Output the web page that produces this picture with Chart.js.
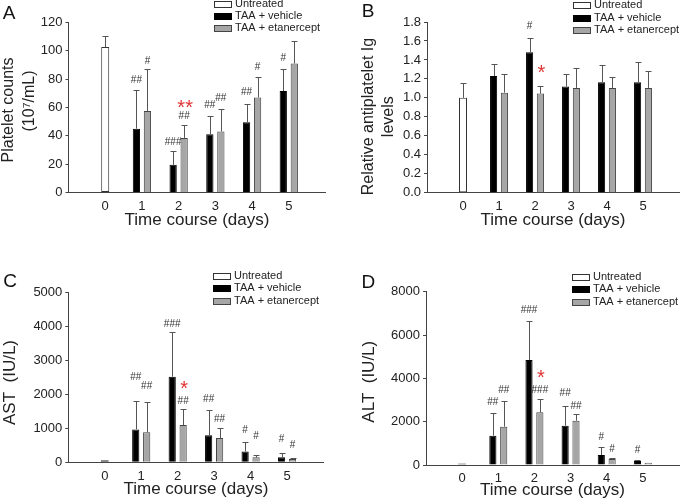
<!DOCTYPE html>
<html>
<head>
<meta charset="utf-8">
<script src="https://cdn.jsdelivr.net/npm/chart.js@4.4.1/dist/chart.umd.min.js"></script>
<style>
  body { margin: 0; background: #fff; }
  #fig { position: relative; width: 685px; height: 501px; overflow: hidden; }
  .panel { position: absolute; }
</style>
</head>
<body>
<div id="fig">
  <div class="panel" style="left:0;top:0;width:340px;height:250px"><canvas id="chartA"></canvas></div>
  <div class="panel" style="left:340px;top:0;width:345px;height:250px"><canvas id="chartB"></canvas></div>
  <div class="panel" style="left:0;top:250px;width:340px;height:251px"><canvas id="chartC"></canvas></div>
  <div class="panel" style="left:340px;top:250px;width:345px;height:251px"><canvas id="chartD"></canvas></div>
</div>
<script>
// Données
const days = ['0', '1', '2', '3', '4', '5'];
const groupNames = ['Untreated', 'TAA + vehicle', 'TAA + etanercept'];

// A - plaquettes (10^7/mL)
const plateletUntreated = [102.5, null, null, null, null, null];
const plateletUntreatedSd = [7.5, null, null, null, null, null];
const plateletVehicle = [null, 45, 19.5, 41, 49.5, 71.5];
const plateletVehicleSd = [null, 27.5, 9.5, 13, 13, 15.5];
const plateletEtanercept = [null, 57.5, 38.5, 43, 67, 91];
const plateletEtanerceptSd = [null, 29.5, 9, 16, 14.5, 16];
const plateletVehicleMarks = ['', '##', '###', '##', '##', '#'];
const plateletVehicleMarkAt = [null, 79, 35.3, 61.3, 70.9, 94.7];
const plateletEtanerceptMarks = ['', '#', '##', '##', '#', ''];
const plateletEtanerceptMarkAt = [null, 92.4, 54, 66.7, 88.4, null];
const plateletStars = ['', '', '**', '', '', ''];
const plateletStarAt = [null, null, 62.7, null, null, null];

// B - anticorps antiplaquettes (relatif)
const antibodyUntreated = [1.0, null, null, null, null, null];
const antibodyUntreatedSd = [0.16, null, null, null, null, null];
const antibodyVehicle = [null, 1.23, 1.48, 1.12, 1.165, 1.165];
const antibodyVehicleSd = [null, 0.125, 0.15, 0.13, 0.18, 0.21];
const antibodyEtanercept = [null, 1.055, 1.045, 1.105, 1.105, 1.105];
const antibodyEtanerceptSd = [null, 0.195, 0.085, 0.215, 0.11, 0.18];
const antibodyVehicleMarks = ['', '', '#', '', '', ''];
const antibodyVehicleMarkAt = [null, null, 1.751, null, null, null];
const antibodyEtanerceptMarks = ['', '', '', '', '', ''];
const antibodyEtanerceptMarkAt = [null, null, null, null, null, null];
const antibodyStars = ['', '', '*', '', '', ''];
const antibodyStarAt = [null, null, 1.305, null, null, null];

// C - AST (IU/L)
const astUntreated = [60, null, null, null, null, null];
const astUntreatedSd = [null, null, null, null, null, null];
const astVehicle = [null, 966, 2512, 792, 319, 145];
const astVehicleSd = [null, 831, 1304, 754, 270, 116];
const astEtanercept = [null, 879, 1092, 715, 145, 97];
const astEtanerceptSd = [null, 879, 473, 290, 58, 19];
const astVehicleMarks = ['', '##', '###', '##', '#', '#'];
const astVehicleMarkAt = [null, 2502, 4058, 1855, 937, 667];
const astEtanerceptMarks = ['', '##', '##', '##', '#', '#'];
const astEtanerceptMarkAt = [null, 2242, 1807, 1275, 773, 502];
const astStars = ['', '', '*', '', '', ''];
const astStarAt = [null, null, 2261, null, null, null];

// D - ALT (IU/L)
const altUntreated = [75, null, null, null, null, null];
const altUntreatedSd = [null, null, null, null, null, null];
const altVehicle = [null, 1354, 4845, 1814, 460, 185];
const altVehicleSd = [null, 1061, 1815, 896, 357, 45];
const altEtanercept = [null, 1769, 2430, 2045, 277, 106];
const altEtanerceptSd = [null, 1184, 615, 295, 32, null];
const altVehicleMarks = ['', '##', '###', '##', '#', '#'];
const altVehicleMarkAt = [null, 2876, 7152, 3307, 1261, 692];
const altEtanerceptMarks = ['', '##', '###', '##', '#', ''];
const altEtanerceptMarkAt = [null, 3460, 3460, 2722, 738, null];
const altStars = ['', '', '*', '', '', ''];
const altStarAt = [null, null, 4199, null, null, null];

// Styles
const FONT = '"Liberation Sans", Arial, sans-serif';
Chart.defaults.font.family = FONT;
Chart.defaults.color = '#222';
const groupFill = ['#ffffff', '#000000', '#a6a6a6'];
const groupEdge = ['#333333', '#000000', '#444444'];
const axisColor = '#444';

// l'axe x va d'une case vide à une autre case vide
const pad = arr => [null, ...arr, null];
const none = days.map(() => null);
const blank = days.map(() => '');

// tinyFill : une barre "Untreated" très basse paraît noire sur la figure
function buildDatasets(values, sds, marks, markAt, stars, starAt, tinyFill) {
  return groupNames.map((name, g) => ({
    label: name,
    data: pad(values[g]),
    sd: pad(sds[g]),
    marks: pad(marks[g]),
    markAt: pad(markAt[g]),
    stars: pad(g === 2 ? stars : blank),
    starAt: pad(g === 2 ? starAt : none),
    backgroundColor: (g === 0 && tinyFill) ? tinyFill : groupFill[g],
    borderColor: groupEdge[g],
    borderWidth: 1,
    borderSkipped: g === 0 ? false : 'start',
    skipNull: true,
    maxBarThickness: 8,
    categoryPercentage: 0.6,
    barPercentage: 0.66
  }));
}

// barres d'erreur (vers le haut seulement) + les # et *
const errorBarsPlugin = {
  id: 'errorBars',
  afterDatasetsDraw(chart) {
    const ctx = chart.ctx;
    const ys = chart.scales.y;
    ctx.save();
    chart.data.datasets.forEach((ds, i) => {
      chart.getDatasetMeta(i).data.forEach((bar, j) => {
        const v = ds.data[j];
        if (v == null) return;
        const x = Math.round(bar.x) + 0.5;
        const sd = ds.sd[j];
        if (sd) {
          const y0 = ys.getPixelForValue(v);
          const y1 = Math.round(ys.getPixelForValue(v + sd)) + 0.5;
          ctx.strokeStyle = '#555';
          ctx.lineWidth = 1;
          ctx.beginPath();
          ctx.moveTo(x, y0);
          ctx.lineTo(x, y1);
          ctx.moveTo(x - 3, y1);
          ctx.lineTo(x + 3, y1);
          ctx.stroke();
        }
        ctx.textAlign = 'center';
        ctx.textBaseline = 'middle';
        if (ds.marks[j]) {
          ctx.font = '10px ' + FONT;
          ctx.fillStyle = '#333';
          ctx.fillText(ds.marks[j], bar.x, ys.getPixelForValue(ds.markAt[j]));
        }
        if (ds.stars[j]) {
          ctx.font = '20px ' + FONT;
          ctx.fillStyle = '#e03535';
          ctx.fillText(ds.stars[j], bar.x + 1, ys.getPixelForValue(ds.starAt[j]) + 4.6);
        }
      });
    });
    ctx.restore();
  }
};

// lettre du panneau, titre de l'axe y et légende
function decorPlugin(p) {
  return {
    id: 'decor',
    afterDraw(chart) {
      const ctx = chart.ctx;
      ctx.save();
      ctx.textAlign = 'center';
      ctx.textBaseline = 'middle';
      ctx.fillStyle = '#111';
      ctx.font = '19px ' + FONT;
      ctx.fillText(p.letter, p.letterX, p.letterY);

      ctx.font = p.yTitleSize + 'px ' + FONT;
      ctx.fillStyle = '#222';
      p.yTitle.forEach((line, k) => {
        ctx.save();
        ctx.translate(p.yTitleX[k], p.yTitleY[k]);
        ctx.rotate(-Math.PI / 2);
        ctx.fillText(line, 0, 0);
        ctx.restore();
      });

      ctx.font = '11px ' + FONT;
      ctx.textAlign = 'left';
      chart.data.datasets.forEach((ds, i) => {
        const y = p.legendY + i * p.legendGap;
        const top = Math.round(y - 3) + 0.5;
        ctx.fillStyle = groupFill[i];
        ctx.fillRect(p.legendX + 0.5, top, 17, 6);
        ctx.strokeStyle = groupEdge[i];
        ctx.lineWidth = 1;
        ctx.strokeRect(p.legendX + 0.5, top, 17, 6);
        ctx.fillStyle = '#222';
        ctx.fillText(ds.label, p.legendX + 21, y);
      });
      ctx.restore();
    }
  };
}

function makeChart(id, datasets, p) {
  return new Chart(document.getElementById(id), {
    type: 'bar',
    data: { labels: ['', ...days, ''], datasets },
    options: {
      responsive: true,
      maintainAspectRatio: false,
      animation: false,
      layout: { padding: { top: p.top, right: p.right, left: 0, bottom: 0 } },
      plugins: { legend: { display: false }, tooltip: { enabled: false } },
      scales: {
        x: {
          offset: false,
          grid: { display: false, drawTicks: false },
          border: { display: true, color: axisColor },
          ticks: { font: { size: 13 }, padding: 6, maxRotation: 0, autoSkip: false },
          title: {
            display: true,
            text: 'Time course (days)',
            font: { size: 17, lineHeight: 1.2 },
            padding: { top: 0, bottom: p.xTitlePad }
          },
          afterFit: s => { s.height = p.xHeight; }
        },
        y: {
          min: 0,
          max: p.max,
          ticks: {
            stepSize: p.step,
            font: { size: 13 },
            padding: 3,
            callback: v => p.decimals ? v.toFixed(p.decimals) : v
          },
          grid: { display: true, drawOnChartArea: false, drawTicks: true, tickLength: 3, color: axisColor },
          border: { display: true, color: axisColor },
          afterFit: s => { s.width = p.yWidth; }
        }
      }
    },
    plugins: [errorBarsPlugin, decorPlugin(p)]
  });
}

makeChart('chartA',
  buildDatasets(
    [plateletUntreated, plateletVehicle, plateletEtanercept],
    [plateletUntreatedSd, plateletVehicleSd, plateletEtanerceptSd],
    [blank, plateletVehicleMarks, plateletEtanerceptMarks],
    [none, plateletVehicleMarkAt, plateletEtanerceptMarkAt],
    plateletStars, plateletStarAt),
  { top: 22.3, right: 14.5, yWidth: 68.5, xHeight: 57.5, xTitlePad: 19.3,
    max: 120, step: 20, decimals: 0,
    letter: 'A', letterX: 9, letterY: 13.5,
    yTitle: ['Platelet counts', '(10\u2077/mL)'], yTitleSize: 16, yTitleX: [9, 30], yTitleY: [110, 101],
    legendX: 214, legendY: 4, legendGap: 12.2 });

makeChart('chartB',
  buildDatasets(
    [antibodyUntreated, antibodyVehicle, antibodyEtanercept],
    [antibodyUntreatedSd, antibodyVehicleSd, antibodyEtanerceptSd],
    [blank, antibodyVehicleMarks, antibodyEtanerceptMarks],
    [none, antibodyVehicleMarkAt, antibodyEtanerceptMarkAt],
    antibodyStars, antibodyStarAt),
  { top: 22, right: 1, yWidth: 87, xHeight: 57.3, xTitlePad: 19.3,
    max: 1.8, step: 0.2, decimals: 1,
    letter: 'B', letterX: 28, letterY: 11.7,
    yTitle: ['Relative antiplatelet Ig', 'levels'], yTitleSize: 16, yTitleX: [29, 49], yTitleY: [116.5, 116.7],
    legendX: 233, legendY: 5.3, legendGap: 12.3 });

makeChart('chartC',
  buildDatasets(
    [astUntreated, astVehicle, astEtanercept],
    [astUntreatedSd, astVehicleSd, astEtanerceptSd],
    [blank, astVehicleMarks, astEtanerceptMarks],
    [none, astVehicleMarkAt, astEtanerceptMarkAt],
    astStars, astStarAt, '#111'),
  { top: 42, right: 16.5, yWidth: 68.3, xHeight: 38.7, xTitlePad: 1.8,
    max: 5000, step: 1000, decimals: 0,
    letter: 'C', letterX: 10, letterY: 31.7,
    yTitle: ['AST  (IU/L)'], yTitleSize: 17, yTitleX: [10], yTitleY: [132.5],
    legendX: 213, legendY: 26, legendGap: 12.3 });

makeChart('chartD',
  buildDatasets(
    [altUntreated, altVehicle, altEtanercept],
    [altUntreatedSd, altVehicleSd, altEtanerceptSd],
    [blank, altVehicleMarks, altEtanerceptMarks],
    [none, altVehicleMarkAt, altEtanerceptMarkAt],
    altStars, altStarAt, '#111'),
  { top: 41.7, right: 2, yWidth: 86, xHeight: 36, xTitlePad: 0.8,
    max: 8000, step: 2000, decimals: 0,
    letter: 'D', letterX: 28.3, letterY: 32.7,
    yTitle: ['ALT  (IU/L)'], yTitleSize: 17, yTitleX: [29], yTitleY: [131.7],
    legendX: 232, legendY: 26.7, legendGap: 12.5 });
</script>
</body>
</html>
